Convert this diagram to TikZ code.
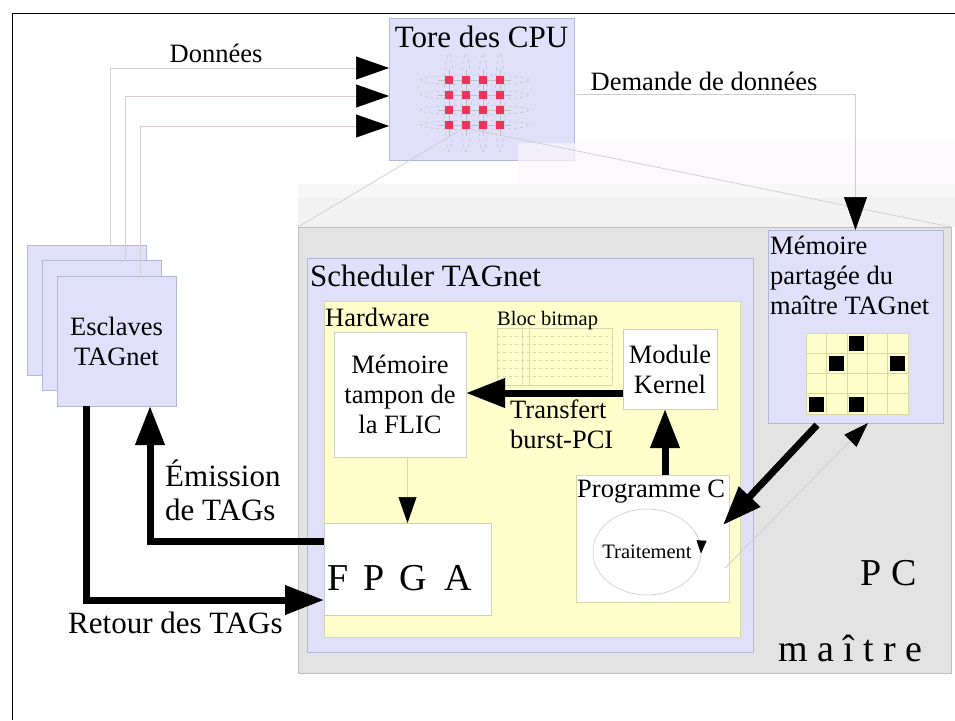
\documentclass[tikz,border=0pt]{standalone}
\usepackage{fontspec}
\setmainfont{Liberation Serif}
\usetikzlibrary{arrows.meta,positioning,calc}

\definecolor{lav}{RGB}{224,224,250}
\definecolor{lavline}{RGB}{180,184,216}
\definecolor{hwyellow}{RGB}{255,255,204}
\definecolor{hwline}{RGB}{216,216,168}
\definecolor{pcgray}{RGB}{227,227,227}
\definecolor{pcline}{RGB}{190,190,190}
\definecolor{cpured}{RGB}{240,50,90}
\definecolor{wireline}{RGB}{205,205,205}
\definecolor{dataline}{RGB}{216,204,210}
\definecolor{funnelpink}{RGB}{251,245,253}

\begin{document}
\begin{tikzpicture}[x=1pt,y=-1pt,
		box/.style={anchor=north west,inner sep=0,outer sep=0,line width=0.8pt},
		lavbox/.style={box,draw=lavline,fill=lav},
		whitebox/.style={box,draw=black!20,fill=white},
		bigtxt/.style={font=\fontsize{31}{34}\selectfont,inner sep=0},
		midtxt/.style={font=\fontsize{26.5}{30}\selectfont,inner sep=0},
		smalltxt/.style={font=\fontsize{20.5}{24}\selectfont,inner sep=0},
		hugetxt/.style={font=\fontsize{38}{40}\selectfont,inner sep=0},
		wire/.style={draw=wireline,line width=0.7pt},
		fatarrow/.style={line width=7pt,-{Triangle[length=39pt,width=28pt]}},
		thinhead/.style={-{Triangle[length=33pt,width=23pt,color=black]}}]
		\useasboundingbox (0,0) rectangle (955,720);
		\draw[line width=1pt] (12,720) -- (12,13) -- (955,13);

		% funnel behind the PC
		\fill[black!3] (298,184) rectangle (955,198);
		\fill[black!5] (298,198) rectangle (955,227);
		\node[box,draw=pcline,fill=pcgray,minimum width=653pt,minimum height=446pt] (pc) at (298,227) {};

		% CPU torus
		\node[lavbox,minimum width=185pt,minimum height=142pt] (tore) at (389,18) {};
		\fill[funnelpink,opacity=0.7] (518,143) rectangle (955,184);
		\node[bigtxt,anchor=north] at ($(tore.north)+(0,8)$) {Tore des CPU};
		\foreach \r in {1,...,4}{
			\draw[black!25,dashed,line width=0.5pt] (474.5,65+15*\r) ellipse [x radius=54,y radius=5];
			\draw[black!25,line width=0.5pt] (438,65+15*\r) -- (511,65+15*\r);
		}
		\foreach \c in {1,...,4}{
			\draw[black!25,dashed,line width=0.5pt] (432+17*\c,102.5) ellipse [x radius=5,y radius=49];
			\draw[black!25,line width=0.5pt] (432+17*\c,69) -- (432+17*\c,136);
		}
		\foreach \r in {1,...,4}
			\foreach \c in {1,...,4}
				\node[fill=cpured,minimum size=8pt,inner sep=0] (cpu-\r-\c) at (432+17*\c,65+15*\r) {};
		\draw[wire] (cpu-4-2.south west) -- (pc.north west);
		\draw[wire] (cpu-4-2.south east) -- (pc.north east);

		% shared memory of the master
		\node[lavbox,minimum width=175pt,minimum height=193pt] (shm) at (768,230) {};
		\node[midtxt,align=left,anchor=north west] at ($(shm.north west)+(2,6)$) {Mémoire\\partagée du\\maître TAGnet};
		\foreach \c in {0,...,4}
			\foreach \r in {0,...,3}
				\draw[draw=hwline,fill=hwyellow,line width=0.6pt] (806+20.4*\c,333+20.25*\r) rectangle ++(20.4,20.25);
		\foreach \c/\r in {2/0,1/1,4/1,0/3,2/3}
			\fill (808.5+20.4*\c,336+20.25*\r) rectangle ++(15,15);

		% scheduler
		\node[lavbox,minimum width=446pt,minimum height=394pt] (sched) at (307,258) {};
		\node[bigtxt,anchor=west] at ($(sched.north west)+(3,18)$) {Scheduler TAGnet};
		\node[box,draw=hwline,fill=hwyellow,minimum width=416pt,minimum height=336pt] (hw) at (324,301) {};
		\node[midtxt,anchor=west] at ($(hw.north west)+(1,16)$) {Hardware};
		\node[whitebox,midtxt,align=center,minimum width=132pt,minimum height=125pt] (tampon) at (334,332) {Mémoire\\tampon de\\la FLIC};
		\node[whitebox,midtxt,align=center,minimum width=94pt,minimum height=80pt] (kernel) at (623,329) {Module\\Kernel};
		\node[box,draw=hwline,minimum width=115pt,minimum height=57pt] (bitmap) at (497,328) {};
		\node[smalltxt,anchor=base west] at ($(bitmap.north west)+(0,-3)$) {Bloc bitmap};
		\foreach \y in {336,344,...,376}
			\draw[hwline,dashed,line width=0.5pt] (bitmap.west |- 0,\y) -- (bitmap.east |- 0,\y);
		\foreach \x in {522,529}
			\draw[hwline,line width=0.6pt] (\x,0 |- bitmap.north) -- (\x,0 |- bitmap.south);
		\node[whitebox,minimum width=167pt,minimum height=92pt] (fpga) at (324,523) {};
		\node[hugetxt,anchor=west] at ($(fpga.west)+(3,9)$) {F\hspace{0.4em}P\hspace{0.4em}G\hspace{0.45em}A};
		\node[box,draw=hwline,fill=white,minimum width=153pt,minimum height=127pt] (prog) at (576,475) {};
		\node[midtxt,anchor=west] at ($(prog.north west)+(1,17)$) {Programme C};
		\coordinate (trait) at (647,552);
		\draw[dataline,line width=0.7pt] (trait) ellipse [x radius=54,y radius=43];
		\draw[dataline,line width=0.7pt,-{Triangle[length=13pt,width=10pt,color=black]}] ($(trait)+(-30:54 and 43)$) arc[start angle=-30,end angle=2,x radius=54,y radius=43];
		\node[smalltxt] at (trait) {Traitement};
		\node[midtxt,align=left,anchor=north west] (transfert) at (510,400) {Transfert\\burst-PCI};

		% PC label
		\node[hugetxt,anchor=east] at ($(pc.south east)+(-34,-100)$) {P C};
		\node[hugetxt,anchor=east] at ($(pc.south east)+(-28,-25)$) {m a î t r e};

		% slaves
		\foreach \i in {0,1,2}
			\node[lavbox,minimum width=119pt,minimum height=130pt] (esc\i) at (27+15*\i,245+15.5*\i) {};
		\node[midtxt,align=center] at (esc2.center) {Esclaves\\TAGnet};
		\foreach \i/\y in {0/68,1/96,2/126}
			\draw[dataline,line width=0.7pt,thinhead] ($(esc\i.north west)+(83.5,0)$) |- (tore.west |- 0,\y);
		\node[midtxt] (donnees) at (216,53) {Données};
		\draw[wire,thinhead] ($(tore.east)+(0,5)$) -| (shm.north);
		\node[midtxt] (demande) at (704,81) {Demande de données};

		% TAG paths
		\draw[fatarrow] ($(esc2.south west)+(29,0)$) |- ($(fpga.south west)+(0,-15)$);
		\draw[fatarrow] ($(fpga.north west)+(0,18)$) -| ($(esc2.south west)+(93,0)$);
		\node[bigtxt,align=left,anchor=west] at (165,490) {Émission\\de TAGs};
		\node[bigtxt,anchor=west] at (68,623) {Retour des TAGs};

		\draw[fatarrow] ($(kernel.south west)+(0,-16)$) coordinate (kl) -- (tampon.east |- kl);
		\coordinate (ks) at ($(kernel.south)+(-5,0)$);
		\draw[fatarrow] (prog.north -| ks) -- (ks);
		\draw[fatarrow] ($(shm.south west)+(49,2)$) -- ($(prog.north east)+(-6,50)$);
		\draw[wire,-{Triangle[length=25pt,width=17pt,color=black]}] ($(prog.south east)+(-4,-34)$) -- ($(shm.south west)+(100,0)$);
		\draw[hwline,line width=0.7pt,-{Triangle[length=26pt,width=18pt,color=black]}] (tampon.south -| fpga.north) -- (fpga.north);
	\end{tikzpicture}
\end{document}
